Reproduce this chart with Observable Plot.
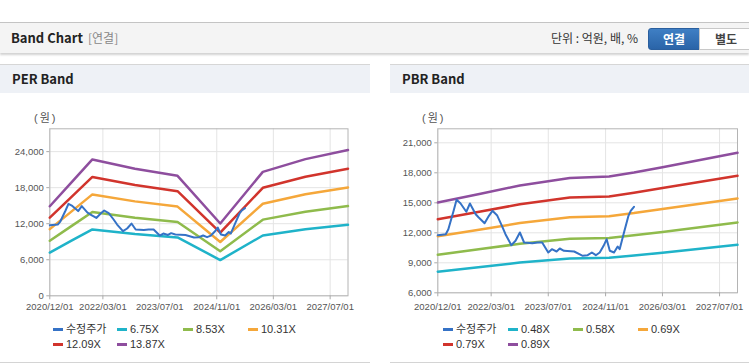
<!DOCTYPE html>
<html><head><meta charset="utf-8">
<script src="https://cdn.jsdelivr.net/npm/d3@7"></script>
<script src="https://cdn.jsdelivr.net/npm/@observablehq/plot@0.6"></script>
<style>
body{margin:0;background:#fff;}
#page{position:relative;width:749px;height:364px;overflow:hidden;font-family:"Liberation Sans","Noto Sans CJK KR",Arial,sans-serif;}
.abs{position:absolute;white-space:nowrap;}
.hdr{left:0;top:22px;width:749px;height:30px;background:#f4f4f4;border-top:1px solid #c4c4c4;box-shadow:0 2px 2px rgba(0,0,0,0.18);}
.ph{top:64px;height:28px;background:#eef1f6;border-top:1px solid #d6d6d6;}
.pb{top:362px;height:1px;background:#d4d4d4;}
.ttl{font-family:"Noto Sans CJK KR",sans-serif;font-weight:bold;font-size:13px;color:#222;line-height:16px;}
.lg{font-size:11px;color:#333;line-height:13px;}
.mk{height:3px;width:10px;}
.unit{font-size:11px;color:#555;line-height:14px;font-family:"Liberation Sans","Noto Sans CJK KR",sans-serif;letter-spacing:2px;}
</style></head>
<body><div id="page">
<div class="abs hdr"></div>
<div class="abs ttl" style="left:11px;top:30px;">Band Chart</div>
<div class="abs" style="left:88px;top:31px;font-size:12px;color:#888;font-family:'Noto Sans CJK KR',sans-serif;line-height:14px;">[연결]</div>
<div class="abs" style="left:551px;top:31px;font-size:12px;color:#333;font-family:'Noto Sans CJK KR',sans-serif;line-height:14px;">단위 : 억원, 배, %</div>
<div class="abs" style="left:648px;top:28px;width:50px;height:20px;background:linear-gradient(#3f7fc4,#2a64a8);border:1px solid #2a5f9e;border-radius:3px 0 0 3px;color:#fff;font-weight:bold;font-size:12px;text-align:center;line-height:20px;font-family:'Noto Sans CJK KR',sans-serif;">연결</div>
<div class="abs" style="left:699px;top:28px;width:52px;height:20px;background:#fff;border:1px solid #c8c8c8;color:#444;font-weight:bold;font-size:12px;text-align:center;line-height:20px;font-family:'Noto Sans CJK KR',sans-serif;">별도</div>

<div class="abs ph" style="left:0;width:370px;"></div>
<div class="abs ph" style="left:390px;width:359px;"></div>
<div class="abs ttl" style="left:12px;top:71px;">PER Band</div>
<div class="abs ttl" style="left:402px;top:71px;">PBR Band</div>
<div class="abs pb" style="left:0;width:370px;"></div>
<div class="abs pb" style="left:390px;width:359px;"></div>

<div class="abs unit" style="left:34px;top:111px;">(원)</div>
<div class="abs unit" style="left:422px;top:111px;">(원)</div>

<div id="per" class="abs" style="left:0;top:100px;"></div>
<div id="pbr" class="abs" style="left:390px;top:100px;"></div>
<div id="legends"></div>
</div>
<script>
// ---- data ----
const xTickDates = ["2020-12-01","2022-03-01","2023-07-01","2024-11-01","2026-03-01","2027-07-01"];

const priceDates = ["2020-12-01","2021-02-07","2021-03-01","2021-04-15","2021-05-10","2021-06-12","2021-08-01","2021-09-01","2021-10-20","2021-11-15","2022-01-04","2022-02-10","2022-03-12","2022-04-20","2022-06-01","2022-07-01","2022-08-20","2022-09-25","2022-11-01","2022-12-07","2023-02-15","2023-03-28","2023-05-10","2023-07-01","2023-08-01","2023-09-10","2023-10-07","2023-11-12","2024-02-07","2024-04-20","2024-06-01","2024-07-07","2024-08-10","2024-09-12","2024-10-15","2024-11-10","2024-12-07","2025-01-12","2025-02-12","2025-03-01","2025-04-07","2025-05-15","2025-06-03","2025-07-01"];
const priceValues = [11760,11860,12360,14200,15300,14960,14100,14930,13860,13530,12960,13700,14200,13760,12700,11860,10760,11200,12030,11030,10960,11030,11030,10030,10360,10130,10430,10200,10130,9700,9760,10030,9760,10030,10700,11360,10200,10030,10630,10360,12030,13700,14200,14600];

const perDates = ["2020-12-01","2021-06-01","2021-12-01","2022-12-01","2023-12-01","2024-12-01","2025-12-01","2026-12-01","2027-12-01"];
const per675  = [7200, 9150, 11050, 10300, 9720, 5950, 10040, 11070, 11810];
const per853  = [9170, 11560, 13960, 13010, 12280, 7420, 12680, 13990, 14930];
const per1031 = [11100, 13970, 16880, 15720, 14850, 8950, 15330, 16910, 18040];
const per1209 = [13000, 16380, 19790, 18440, 17410, 10500, 17980, 19830, 21160];
const per1387 = [14910, 18790, 22700, 21150, 19970, 12040, 20630, 22750, 24270];
const perLabels = ["6.75X","8.53X","10.31X","12.09X","13.87X"];
const perTicks = [0, 6000, 12000, 18000, 24000];

const pbrDates = ["2020-12-01","2021-12-01","2022-11-01","2024-01-01","2024-12-01","2025-07-01","2026-03-01","2027-12-01"];
const pbr048 = [8110, 8580, 9020, 9430, 9500, 9720, 10010, 10800];
const pbr058 = [9800, 10370, 10900, 11400, 11480, 11750, 12090, 13040];
const pbr069 = [11660, 12330, 12970, 13560, 13660, 13970, 14390, 15440];
const pbr079 = [13350, 14120, 14850, 15520, 15640, 16000, 16470, 17700];
const pbr089 = [15040, 15900, 16730, 17490, 17620, 18020, 18560, 20000];
const pbrLabels = ["0.48X","0.58X","0.69X","0.79X","0.89X"];
const pbrTicks = [6000, 9000, 12000, 15000, 18000, 21000];

const priceLabel = "수정주가";
const priceColor = "#3572c6";
const bandColors = ["#1fb3c9","#8fbb4c","#f5a73a","#d1342c","#8e4e9e"];

// ---- build ----
const toRows = (dates, vals) => dates.map((d, i) => ({date: new Date(d), value: vals[i]}));
const priceRows = toRows(priceDates, priceValues);
const xDomain = [new Date("2020-12-01"), new Date("2027-12-01")];
const xTicks = xTickDates.map(d => new Date(d));
const fmtDate = d3.utcFormat("%Y/%m/%d");

function band(opts) {
  const {width, height, ml, mr, mt, mb, yDomain, yTicks, series, xPad} = opts;
  const marks = [
    Plot.gridY(yTicks, {stroke: "#e4e4e4", strokeOpacity: 1}),
    Plot.gridX(xTicks, {stroke: "#e4e4e4", strokeOpacity: 1}),
    Plot.frame({stroke: "#b4b4b4"}),
    ...series.map((s, i) => Plot.line(toRows(s.dates, s.values), {x: "date", y: "value", stroke: bandColors[i], strokeWidth: 2.5})),
    Plot.line(priceRows, {x: "date", y: "value", stroke: priceColor, strokeWidth: 2}),
    Plot.axisX(xTicks, {tickFormat: fmtDate, tickSize: 4, tickPadding: xPad, stroke: "#aaa", fill: "#555", label: null}),
    Plot.axisY(yTicks, {tickFormat: d3.format(","), tickSize: 3, tickPadding: 3, stroke: "#aaa", fill: "#555", label: null})
  ];
  return Plot.plot({
    width, height, marginLeft: ml, marginRight: mr, marginTop: mt, marginBottom: mb,
    x: {type: "utc", domain: xDomain},
    y: {domain: yDomain},
    style: {fontFamily: "Liberation Sans, Arial, sans-serif", fontSize: "9.5px", color: "#555", background: "transparent", overflow: "visible"},
    marks
  });
}

document.getElementById("per").append(band({
  width: 370, height: 215, ml: 49.3, mr: 22.5, mt: 28.3, mb: 19.7, xPad: 3,
  yDomain: [0, 27800], yTicks: perTicks,
  series: [per675, per853, per1031, per1209, per1387].map(v => ({dates: perDates, values: v}))
}));
document.getElementById("pbr").append(band({
  width: 359, height: 215, ml: 47.3, mr: 12, mt: 28.3, mb: 22.7, xPad: 6,
  yDomain: [6000, 22400], yTicks: pbrTicks,
  series: [pbr048, pbr058, pbr069, pbr079, pbr089].map(v => ({dates: pbrDates, values: v}))
}));

// legends
function legend(x0s, labels) {
  const items = [{label: priceLabel, color: priceColor}, ...labels.map((l, i) => ({label: l, color: bandColors[i]}))];
  const host = document.getElementById("legends");
  items.forEach((it, i) => {
    const row = Math.floor(i / 4), col = i % 4;
    const x = x0s[col], y = 329.5 + row * 15;
    const m = document.createElement("div");
    m.className = "abs mk"; m.style.left = x + "px"; m.style.top = (y - 1.5) + "px"; m.style.background = it.color;
    const t = document.createElement("div");
    t.className = "abs lg"; t.style.left = (x + 13) + "px"; t.style.top = (y - 6.5) + "px"; t.textContent = it.label;
    host.append(m, t);
  });
}
legend([53, 117, 183, 248], perLabels);
legend([443, 508, 573, 638], pbrLabels);
</script>
</body></html>
